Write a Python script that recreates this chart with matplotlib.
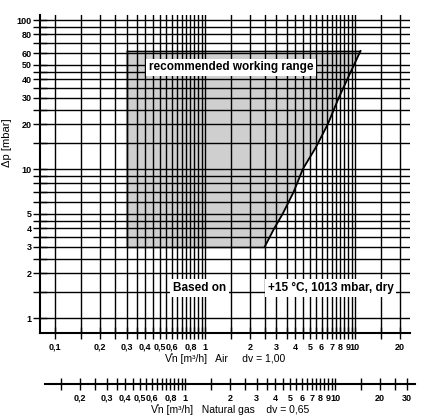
import numpy as np
import matplotlib
matplotlib.use("Agg")
import matplotlib.pyplot as plt

plt.rcParams['font.family'] = ['Liberation Sans', 'DejaVu Sans']
plt.rcParams['font.weight'] = 'bold'

# grid lines (air flow m3/h and pressure mbar)
x_grid = [0.1, 0.15, 0.2, 0.25, 0.3, 0.35, 0.4, 0.45, 0.5, 0.55, 0.6, 0.65, 0.7, 0.75, 0.8, 0.85, 0.9, 0.95, 1,
          1.5, 2, 2.5, 3, 3.5, 4, 4.5, 5, 5.5, 6, 6.5, 7, 7.5, 8, 8.5, 9, 9.5, 10, 15, 20]
y_grid = [1, 1.5, 2, 2.5, 3, 3.5, 4, 4.5, 5, 6, 7, 8, 9, 10, 15, 20, 25, 30, 35, 40, 45, 50, 60, 70, 80, 90, 100]
y_labels = [1, 2, 3, 4, 5, 10, 20, 30, 40, 50, 60, 80, 100]

air_labels = [0.1, 0.2, 0.3, 0.4, 0.5, 0.6, 0.8, 1, 2, 3, 4, 5, 6, 7, 8, 9, 10, 20]
gas_ticks = [0.15, 0.2, 0.25, 0.3, 0.35, 0.4, 0.45, 0.5, 0.55, 0.6, 0.65, 0.7, 0.75, 0.8, 0.85, 0.9, 0.95, 1,
             1.5, 2, 2.5, 3, 3.5, 4, 4.5, 5, 5.5, 6, 6.5, 7, 7.5, 8, 8.5, 9, 9.5, 10, 15, 20, 25, 30]
gas_labels = [0.2, 0.3, 0.4, 0.5, 0.6, 0.8, 1, 2, 3, 4, 5, 6, 7, 8, 9, 10, 20, 30]

# recommended working range boundary
range_x_left = 0.3
range_y = (3, 62)
curve_x = [2.5, 2.9, 3.3, 3.9, 4.5, 5.5, 6.6, 7.8, 9.3, 10.9]
curve_y = [3, 4, 5, 7, 10, 14, 20, 30, 44, 62]

def fmt(v):
    return ('%g' % v).replace('.', ',')

W, H = 434, 419
fig = plt.figure(figsize=(W / 100, H / 100), dpi=100)

def px_axes(x0, y0, x1, y1):
    return fig.add_axes([x0 / W, 1 - y1 / H, (x1 - x0) / W, (y1 - y0) / H])

ax = px_axes(40, 15, 410, 333)
ax.set_xscale('log')
ax.set_yscale('log')
ax.set_xlim(0.1 * 10 ** (-15 / 150), 20 * 10 ** (10 / 150))
ax.set_ylim(10 ** (-15 / 149), 100 * 10 ** (5 / 149))

for xv in x_grid:
    ax.axvline(xv, color='black', lw=1.0, zorder=2)
for yv in y_grid:
    ax.axhline(yv, color='black', lw=1.0, zorder=2)

poly_x = [range_x_left, range_x_left] + curve_x[::-1]
poly_y = [range_y[0], range_y[1]] + curve_y[::-1]
ax.fill(poly_x, poly_y, color='#cfcfcf', zorder=1)
ax.plot([range_x_left, range_x_left, curve_x[0]], [range_y[1], range_y[0], range_y[0]], color='black', lw=1.0, zorder=3)
ax.plot([range_x_left, curve_x[-1]], [range_y[1], range_y[1]], color='black', lw=1.0, zorder=3)
ax.plot(curve_x, curve_y, color='black', lw=1.3, zorder=3)

bbox = dict(facecolor='white', edgecolor='none', pad=2)
ax.text(1.5, 48, 'recommended working range', ha='center', va='center', fontsize=8.5, bbox=bbox, zorder=5)
ax.text(0.92, 1.59, 'Based on', ha='center', va='center', fontsize=8.5, bbox=bbox, zorder=5)
ax.text(6.9, 1.59, '+15 °C, 1013 mbar, dry', ha='center', va='center', fontsize=8.5, bbox=bbox, zorder=5)

for s in ['top', 'right']:
    ax.spines[s].set_visible(False)
ax.spines['left'].set_linewidth(1.5)
ax.spines['bottom'].set_linewidth(1.5)
ax.set_yticks(y_grid)
ax.set_yticklabels([fmt(v) if v in y_labels else '' for v in y_grid], fontsize=6.5)
ax.yaxis.set_minor_locator(matplotlib.ticker.NullLocator())
ax.tick_params(axis='y', direction='inout', length=10, width=1.0, pad=1)
ax.set_ylabel('Δp [mbar]', fontsize=8)
ax.yaxis.set_label_coords(-0.075, 0.6)
ax.set_xticks(x_grid)
ax.set_xticklabels([fmt(v) if v in air_labels else '' for v in x_grid], fontsize=6.5)
ax.xaxis.set_minor_locator(matplotlib.ticker.NullLocator())
ax.tick_params(axis='x', direction='inout', length=8, width=1.0, pad=3)
ax.set_xlabel('V̊n [m³/h]   Air     dv = 1,00', fontsize=7.5, labelpad=1)

# natural gas axis
g = px_axes(45, 383, 415, 384)
g.set_xscale('log')
g.set_xlim(10 ** ((45 - 185) / 150), 10 ** ((415 - 185) / 150))
g.set_yticks([])
for s in ['top', 'right', 'left']:
    g.spines[s].set_visible(False)
g.spines['bottom'].set_linewidth(1.5)
g.patch.set_visible(False)
g.set_xticks(gas_ticks)
g.set_xticklabels([fmt(v) if v in gas_labels else '' for v in gas_ticks], fontsize=6.5)
g.xaxis.set_minor_locator(matplotlib.ticker.NullLocator())
g.tick_params(axis='x', direction='inout', length=8, width=1.0, pad=3)
g.set_xlabel('V̊n [m³/h]   Natural gas    dv = 0,65', fontsize=7.5, labelpad=1)

fig.savefig('out.png', dpi=100)
